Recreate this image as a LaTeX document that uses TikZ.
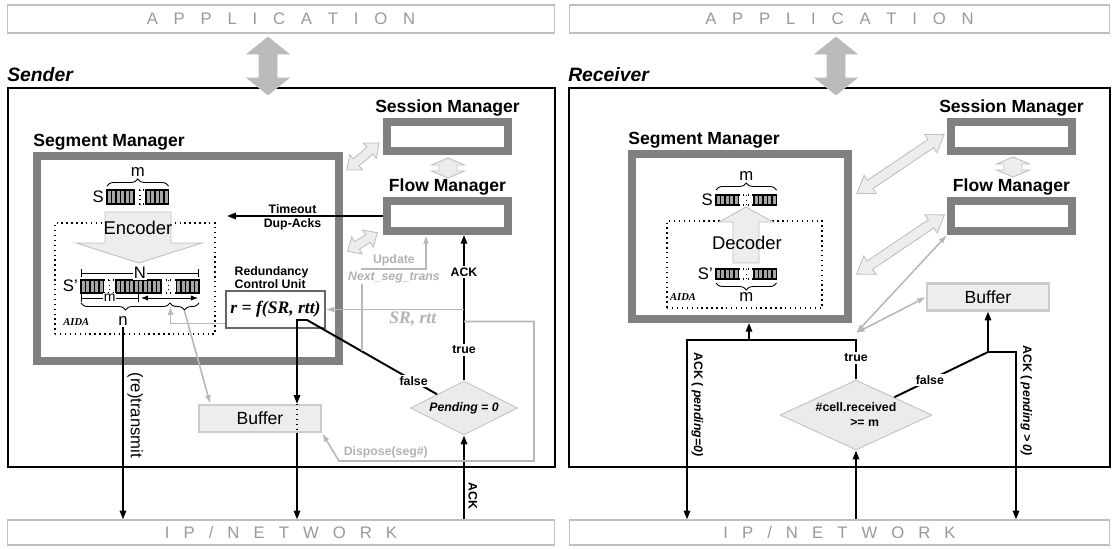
\documentclass[tikz,border=0pt]{standalone}
\usepackage{fontspec}
\setmainfont{Liberation Sans}
\newfontfamily\serifbi{Liberation Serif}
\usepackage{tikz}
\usetikzlibrary{shapes.geometric,arrows.meta,positioning,calc,decorations.pathreplacing}

\tikzset{
    applayer/.style={rectangle, draw=black!25, line width=0.6pt, text=black!40, inner sep=0pt, minimum height=0.56cm, font={\fontsize{9.5}{11}\selectfont\spaceskip=9pt\relax}},
    netlayer/.style={rectangle, draw=black!25, line width=0.6pt, text=black!40, inner sep=0pt, minimum height=0.5cm, font={\fontsize{9.5}{11}\selectfont\spaceskip=8pt\relax}},
    side/.style={rectangle, draw, line width=1.3pt},
    mgr/.style={rectangle, draw=black!50, line width=4.5pt},
    title/.style={inner sep=0pt, font=\fontsize{10}{12}\selectfont\bfseries},
    txt/.style={inner sep=0.5pt, font=\fontsize{9.5}{11}\selectfont},
    lbl/.style={inner sep=1pt, font=\fontsize{7}{7.5}\selectfont\bfseries},
    glbl/.style={lbl, text=black!30},
    vlbl/.style={lbl, rotate=-90, anchor=south, inner sep=2pt},
    aida/.style={rectangle, draw, dotted, line width=0.8pt},
    aidatxt/.style={inner sep=0pt, font=\serifbi\fontsize{6}{7}\selectfont\bfseries\itshape},
    buf/.style={rectangle, draw=black!20, fill=black!7, line width=1.2pt, minimum width=2.44cm, minimum height=0.54cm, font=\fontsize{10}{12}\selectfont},
    test/.style={diamond, aspect=2.2, draw=black!22, fill=black!8, line width=0.6pt, inner sep=0pt, align=center, font=\fontsize{7}{8.5}\selectfont\bfseries},
    blk/.style={draw=black!25, fill=black!7, line width=0.5pt},
    appfill/.style={draw=black!27, fill=black!27},
    sig/.style={-{Triangle[length=5pt,width=3.6pt]}, line width=1.1pt},
    ctl/.style={-{Latex[length=5pt,width=3.4pt]}, draw=black!28, line width=0.9pt},
    dim/.style={{Bar[width=4pt]}-{Bar[width=4pt]}, line width=0.5pt},
    brc/.style={decorate, decoration={brace, amplitude=4pt}, line width=0.5pt},
}

% a run of hatched cells: left x, number of cells, top y, height
\newcommand\cellrow[4]{%
    \draw[fill=black!35, line width=0.6pt] (#1,#3) rectangle ++(4.5*#2,#4);
    \foreach \k in {1,...,#2} \draw[line width=0.6pt] (#1+4.5*\k,#3) -- ++(0,#4);
}
% the dotted gap between two runs
\newcommand\cellgap[4]{%
    \draw[dotted, line width=0.6pt] (#1,#3) -- (#2,#3) (#1,#3+#4) -- (#2,#3+#4) ({(#1+#2)/2},#3) -- ({(#1+#2)/2},#3+#4);
}
% block double arrow: centre x, centre y, angle, length, shaft half, head half, head length
\newcommand\dblarrow[8][blk]{%
    \begin{scope}[shift={(#2,#3)}, rotate=#4]
        \draw[#1] (-#5/2,0) -- (-#5/2+#8,#7) -- (-#5/2+#8,#6) -- (#5/2-#8,#6) -- (#5/2-#8,#7) -- (#5/2,0)
            -- (#5/2-#8,-#7) -- (#5/2-#8,-#6) -- (-#5/2+#8,-#6) -- (-#5/2+#8,-#7) -- cycle;
    \end{scope}
}

\begin{document}
\begin{tikzpicture}[x=0.02cm, y=-0.02cm]
    \useasboundingbox (0,0) rectangle (1115,548);

    % layers
    \node[applayer, minimum width=10.96cm] (appL) at (281,19) {A P P L I C A T I O N};
    \node[applayer, minimum width=10.82cm] (appR) at (839.5,19) {A P P L I C A T I O N};
    \node[netlayer, minimum width=10.96cm] (ipL) at (281,532.5) {I P / N E T W O R K};
    \node[netlayer, minimum width=10.82cm] (ipR) at (839.5,532.5) {I P / N E T W O R K};

    % ---------------- sender ----------------
    \node[side, minimum width=10.94cm, minimum height=7.58cm] (sender) at (281.5,277.5) {};
    \node[anchor=south west, inner sep=0pt, yshift=2.5pt, font=\fontsize{11}{13}\selectfont\bfseries\itshape] (senderT) at (sender.north west) {Sender};
    \dblarrow[appfill]{268}{66}{90}{58}{9}{21}{17}

    \node[mgr, minimum width=6.04cm, minimum height=4.1cm] (segL) at (188,258.5) {};
    \node[title, anchor=base west] (segLT) at ([yshift=3pt]segL.north west) {Segment Manager};
    \node[mgr, minimum width=2.42cm, minimum height=0.58cm] (sesL) at (447.5,136.5) {};
    \node[title, anchor=base] (sesLT) at ([yshift=3pt]sesL.north) {Session Manager};
    \node[mgr, minimum width=2.42cm, minimum height=0.6cm] (flowL) at (447.5,216) {};
    \node[title, anchor=base] (flowLT) at ([yshift=3pt]flowL.north) {Flow Manager};
    \dblarrow{448}{168}{90}{20}{9}{16.5}{7}
    \dblarrow{363}{156.5}{40}{42}{4.5}{10}{12}
    \dblarrow{362.5}{242}{32}{35}{4.5}{10}{11}

    \node[aida, minimum width=3.2cm, minimum height=2.22cm] (aidaL) at (135,278.5) {};
    \node[aidatxt, anchor=base west] (aidaLT) at ([xshift=5pt,yshift=5pt]aidaL.south west) {AIDA};

    % S
    \cellrow{107}{6}{190}{14}
    \cellgap{134}{146}{190}{14}
    \cellrow{146}{5}{190}{14}
    \node[txt, anchor=east] (sL) at (105,197) {S};
    \draw[brc] (107,186) -- node[txt, above=4.5pt] (mL) {m} (168.5,186);

    % encoder
    \draw[blk] (105,212) -- (171,212) -- (171,243) -- (202,243) -- (139,263) -- (76,243) -- (105,243) -- cycle;
    \node[txt, font=\fontsize{10.5}{12}\selectfont] (encL) at (138,228) {Encoder};

    % S'
    \cellrow{81}{5}{280}{13}
    \cellgap{103.5}{116}{280}{13}
    \cellrow{116}{5}{280}{13}
    \cellrow{138.5}{5}{280}{13}
    \cellgap{161}{176.5}{280}{13}
    \cellrow{176.5}{5}{280}{13}
    \node[txt, anchor=east] (spL) at (79,286) {S'};
    \draw[dim] (81,273) -- node[txt, fill=white] (NL) {N} (199,273);
    \draw[dim] (81,298) -- node[txt, fill=white, font=\fontsize{8}{9}\selectfont] (mL2) {m} (138.5,298);
    \draw[{Latex[length=4pt,width=3pt]}-{Latex[length=4pt,width=3pt]}, line width=0.5pt] (141,298) -- (198,298);
    \draw[brc, decoration={mirror}] (81,303) -- (170,303);
    \draw[brc, decoration={mirror}] (170,303) -- (199,303);
    \coordinate (sbt) at (184.5,311);
    \coordinate (bj) at (170.5,306);
    \node[txt] (nL) at (123,321) {n};

    % redundancy control unit
    \node[draw=black!60, line width=0.6pt, minimum width=1.98cm, minimum height=0.74cm, inner sep=1pt, font=\serifbi\fontsize{10}{12}\selectfont\bfseries\itshape] (rcu) at (275.5,309.5) {r = f(SR, rtt)};
    \node[lbl, align=left, anchor=south west] (rcuT) at ([xshift=4pt]rcu.north west) {Redundancy\\Control Unit};

    \node[buf] (bufL) at (260,418.5) {Buffer};
    \node[test, aspect=2, minimum width=2.14cm, minimum height=1.08cm, font=\fontsize{7}{8.5}\selectfont\bfseries\itshape] (dmdL) at (464,408) {Pending = 0};

    \coordinate (tmo) at (227,216);
    \coordinate (rcuK) at (307,320);
    \coordinate (rcuC) at (297,320);
    \coordinate (updS) at ($(dmdL.north west)!0.578!(rcuK)$);
    \coordinate (updK) at (426,269);
    \coordinate (dspS) at ($(dmdL.north)+(0,-59)$);
    \coordinate (dspA) at (534,461);
    \coordinate (dspB) at (339,461);

    % control flow (black)
    \draw[sig] (flowL.west) -- node[lbl, above, pos=0.58] {Timeout} node[lbl, below, pos=0.58] {Dup-Acks} (tmo);
    \draw[sig] (dmdL.south |- ipL.north) -- node[vlbl, pos=0.28] {ACK} (dmdL.south);
    \draw[sig] (dmdL.north) -- node[lbl, fill=white, pos=0.21] {true} node[lbl, fill=white, pos=0.745] {ACK} (dmdL.north |- flowL.south);
    \draw[sig] (dmdL.north west) -- node[lbl, fill=white, pos=0.18] {false} (rcuK) -- (rcuC) -- (rcuC |- bufL.north);
    \draw[dotted, line width=0.8pt] (rcuC |- bufL.north) -- (rcuC |- bufL.south);
    \draw[sig] (rcuC |- bufL.south) -- (rcuC |- ipL.north);
    \draw[sig] (nL.south) -- node[txt, rotate=-90, anchor=south, inner sep=2pt, pos=0.46] {(re)transmit} (nL.south |- ipL.north);

    % feedback (gray)
    \draw[ctl] (rcu.east -| dmdL.north) -- node[below, pos=0.37, inner sep=1pt, text=black!30, font=\serifbi\fontsize{10}{12}\selectfont\bfseries\itshape] {SR, rtt} (rcu.east);
    \draw[ctl] ([yshift=2.8pt]rcu.south west) -| (bj);
    \draw[ctl] (sbt) -- ([xshift=7pt]bufL.north west);
    \draw[ctl] (updS) |- node[glbl, above, pos=0.75] {Update} node[glbl, below, pos=0.75, fill=white, font=\fontsize{7}{7.5}\selectfont\bfseries\itshape] {Next\_seg\_trans} (updK) -- (updK |- flowL.south);
    \draw[ctl] (dspS) -| (dspA) -- node[glbl, above, pos=0.76] {Dispose(seg\#)} (dspB) -- (bufL.south east);

    % ---------------- receiver ----------------
    \node[side, minimum width=10.82cm, minimum height=7.58cm] (receiver) at (839.5,277.5) {};
    \node[anchor=south west, inner sep=0pt, yshift=2.5pt, font=\fontsize{11}{13}\selectfont\bfseries\itshape] (receiverT) at (receiver.north west) {Receiver};
    \dblarrow[appfill]{836}{66}{90}{58}{9}{21}{17}

    \node[mgr, minimum width=4.32cm, minimum height=3.3cm] (segR) at (740,236.5) {};
    \node[title, anchor=base west] (segRT) at ([yshift=3pt]segR.north west) {Segment Manager};
    \node[mgr, minimum width=2.42cm, minimum height=0.58cm] (sesR) at (1011.5,136.5) {};
    \node[title, anchor=base] (sesRT) at ([yshift=3pt]sesR.north) {Session Manager};
    \node[mgr, minimum width=2.42cm, minimum height=0.6cm] (flowR) at (1011.5,216) {};
    \node[title, anchor=base] (flowRT) at ([yshift=3pt]flowR.north) {Flow Manager};
    \dblarrow{1013}{167}{90}{20}{9}{16.5}{7}
    \dblarrow{900.5}{164}{34}{105}{5}{11}{16}
    \dblarrow{900.5}{244.5}{34}{106}{5}{11}{16}

    \node[aida, minimum width=3.1cm, minimum height=1.74cm] (aidaR) at (744.5,264.5) {};
    \node[aidatxt, anchor=base west] (aidaRT) at ([xshift=2pt,yshift=4.5pt]aidaR.south west) {AIDA};

    % S
    \cellrow{716}{5}{195}{10}
    \cellgap{738.5}{754}{195}{10}
    \cellrow{754}{5}{195}{10}
    \node[txt, anchor=east] (sR) at (714,200) {S};
    \draw[brc] (716,190) -- node[txt, above=4.5pt] (mR) {m} (776.5,190);

    % decoder
    \draw[blk] (733,263) -- (759,263) -- (759,222) -- (773,222) -- (746,207) -- (719,222) -- (733,222) -- cycle;
    \node[txt, font=\fontsize{10.5}{12}\selectfont] (decR) at (747,243) {Decoder};

    % S'
    \cellrow{716}{5}{269}{10}
    \cellgap{738.5}{754}{269}{10}
    \cellrow{754}{5}{269}{10}
    \node[txt, anchor=east] (spR) at (714,274) {S'};
    \draw[brc] (776.5,283) -- node[txt, below=4.5pt] (mR2) {m} (716,283);

    \node[buf] (bufR) at (988,297) {Buffer};
    \node[test, minimum width=3.04cm, minimum height=1.4cm] (dmdR) at (856,415) {\#cell.received\\\hspace*{1.4em}>= m};

    \coordinate (trueK) at (856,340);
    \coordinate (ackK) at (687,340);
    \coordinate (brK) at (749,340);
    \coordinate (flsK) at (988,352);
    \coordinate (flsR) at (1016,352);
    \coordinate (gj) at (856,333);

    \draw[sig] (dmdR.south |- ipR.north) -- (dmdR.south);
    \draw[sig] (dmdR.north) -- node[lbl, fill=white, pos=0.55] {true} (trueK) -- (ackK) -- node[vlbl, pos=0.36] {ACK ( \textit{pending=0)}} (ackK |- ipR.north);
    \draw[sig] (brK) -- (brK |- segR.south);
    \draw[line width=1.1pt] (dmdR.north east) -- node[lbl, fill=white, pos=0.38] {false} (flsK);
    \draw[sig] (flsK) -- (bufR.south);
    \draw[sig] (flsK) -- (flsR) -- node[vlbl, pos=0.29] {ACK ( \textit{pending > 0)}} (flsR |- ipR.north);
    \draw[ctl, {Latex[length=5pt,width=3.4pt]}-{Latex[length=5pt,width=3.4pt]}] (gj) -- (flowR.south west);
    \draw[ctl, {Latex[length=5pt,width=3.4pt]}-{Latex[length=5pt,width=3.4pt]}] (gj) -- (bufR.west);
\end{tikzpicture}
\end{document}
